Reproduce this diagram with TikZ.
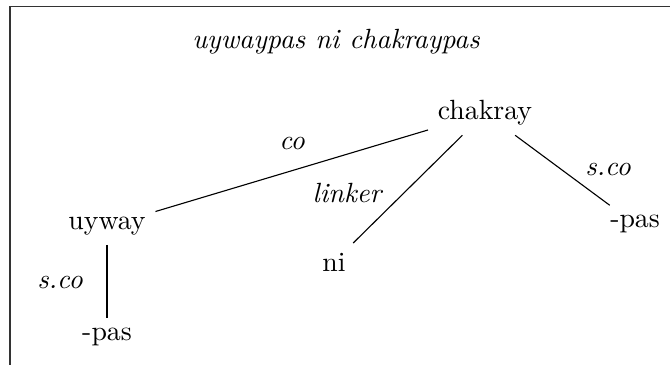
\documentclass[tikz,border=0pt]{standalone}
\usetikzlibrary{positioning}

\begin{document}
\begin{tikzpicture}[
    morph/.style={inner sep=0.333em},
    edge_label/.style={font=\itshape},
    frame/.style={line width=0.7pt, draw=black!80}
]

\useasboundingbox (0,0) rectangle (8.47,4.614);

% FRAME (cut off at the right and bottom)
\draw[frame] (0.126,0) -- (0.126,4.532) -- (8.47,4.532);

% TITLE
\node[font=\itshape] (title) at (4.248, 4.083) {uywaypas ni chakraypas};

% TREE NODES
\node[morph] (chakray) at (6.131, 3.186) {chakray};
\node[morph] (uyway) at (1.353, 1.757) {uyway};
\node[morph] (ni) at (4.222, 1.302) {ni};
\node[morph] (pasR) at (8.028, 1.782) {-pas};
\node[morph] (pasL) at (1.353, 0.354) {-pas};

% EDGES
\draw (chakray) -- (uyway);
\draw (chakray) -- (ni);
\draw (chakray) -- (pasR);
\draw (uyway) -- (pasL);

% EDGE LABELS
\node[edge_label] (lbl_co) at (3.692, 2.806) {co};
\node[edge_label] (lbl_linker) at (4.387, 2.174) {linker};
\node[edge_label] (lbl_scoR) at (7.686, 2.465) {s.co};
\node[edge_label] (lbl_scoL) at (0.759, 1.037) {s.co};

\end{tikzpicture}
\end{document}
